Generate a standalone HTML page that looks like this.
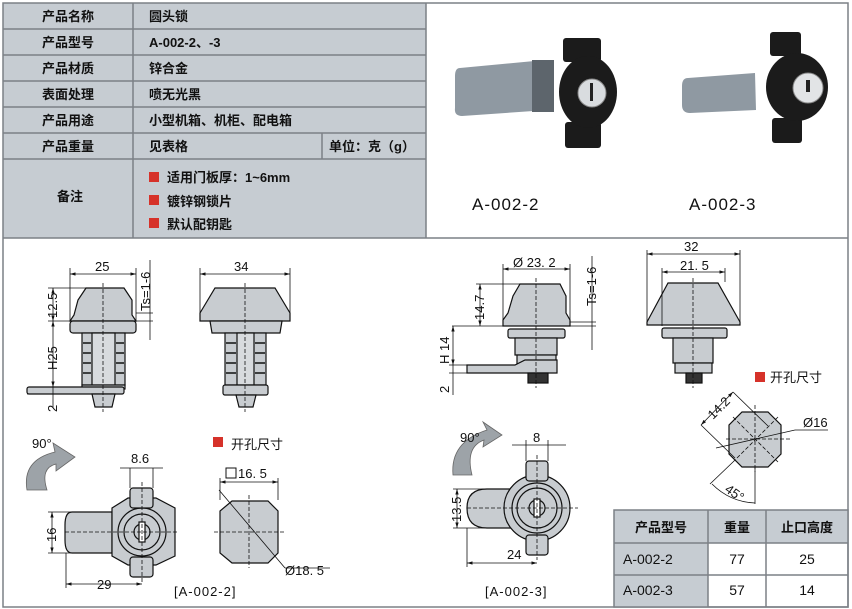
<!DOCTYPE html>
<html><head><meta charset="utf-8"><style>
html,body{margin:0;padding:0;background:#fff;}
svg{display:block;font-family:"Liberation Sans","Noto Sans CJK SC",sans-serif;}
</style></head><body>
<svg width="852" height="609" viewBox="0 0 852 609" xmlns="http://www.w3.org/2000/svg">
<defs>
<marker id="a" viewBox="0 0 10 10" refX="10" refY="5" markerWidth="7" markerHeight="7" orient="auto-start-reverse"><path d="M0 2 L10 5 L0 8 Z" fill="#111"/></marker>
</defs>
<rect x="0" y="0" width="852" height="609" fill="#fff"/>
<!-- top table -->
<rect x="3" y="3" width="423" height="235" fill="#c6ccd2"/>
<g stroke="#7c8086" stroke-width="1.5" fill="none">
<rect x="3" y="3" width="845" height="604"/>
<line x1="3" y1="29" x2="426" y2="29"/><line x1="3" y1="55" x2="426" y2="55"/>
<line x1="3" y1="81" x2="426" y2="81"/><line x1="3" y1="107" x2="426" y2="107"/>
<line x1="3" y1="133" x2="426" y2="133"/><line x1="3" y1="159" x2="426" y2="159"/>
<line x1="3" y1="238" x2="848" y2="238"/>
<line x1="133" y1="3" x2="133" y2="238"/><line x1="322" y1="133" x2="322" y2="159"/>
<line x1="426" y1="3" x2="426" y2="238"/>
</g>
<g font-size="13" font-weight="bold" fill="#111" text-anchor="middle">
<text x="68" y="21">产品名称</text><text x="68" y="47">产品型号</text><text x="68" y="73">产品材质</text>
<text x="68" y="99">表面处理</text><text x="68" y="125">产品用途</text><text x="68" y="151">产品重量</text>
<text x="70" y="201">备注</text>
</g>
<g font-size="13" font-weight="bold" fill="#111">
<text x="149" y="21">圆头锁</text><text x="149" y="47">A-002-2、-3</text><text x="149" y="73">锌合金</text>
<text x="149" y="99">喷无光黑</text><text x="149" y="125">小型机箱、机柜、配电箱</text><text x="149" y="151">见表格</text>
<text x="329" y="151">单位：克（g）</text>
<text x="167" y="182">适用门板厚：1~6mm</text><text x="167" y="206">镀锌钢锁片</text><text x="167" y="229">默认配钥匙</text>
</g>
<g fill="#d6322a"><rect x="149" y="172" width="10" height="10"/><rect x="149" y="195" width="10" height="10"/><rect x="149" y="218" width="10" height="10"/></g>
<!-- photos -->
<g>
<path d="M460 68 L545 60 L548 110 L462 116 Q454 116 455 108 L455 76 Q455 68 460 68 Z" fill="#8f99a2"/>
<rect x="532" y="60" width="22" height="52" fill="#5d656c"/>
<rect x="563" y="38" width="38" height="24" rx="3" fill="#1b1b1b"/>
<rect x="565" y="122" width="36" height="26" rx="3" fill="#1b1b1b"/>
<ellipse cx="588" cy="92" rx="29" ry="36" fill="#1b1b1b"/>
<circle cx="592" cy="93" r="14" fill="#d9dcdf" stroke="#888"/>
<rect x="590" y="83" width="3" height="18" fill="#222"/>
<path d="M688 78 L755 73 L756 110 L690 113 Q682 113 682 105 L682 86 Q682 78 688 78 Z" fill="#8f99a2"/>
<rect x="770" y="32" width="31" height="24" rx="3" fill="#1b1b1b"/>
<rect x="772" y="118" width="30" height="25" rx="3" fill="#1b1b1b"/>
<ellipse cx="797" cy="87" rx="31" ry="34" fill="#1b1b1b"/>
<circle cx="808" cy="88" r="15" fill="#e2e4e6" stroke="#888"/>
<rect x="806" y="80" width="4" height="12" fill="#222"/>
</g>
<g font-size="17" fill="#111" letter-spacing="1"><text x="472" y="210">A-002-2</text><text x="689" y="210">A-002-3</text></g>

<!-- drawings -->
<g stroke="#111" stroke-width="1.2" fill="#c8ccd0">
<path d="M86 288 L124 288 L132 300 L132 315 L136 321 L70 321 L74 315 L78 300 Z"/>
<rect x="70" y="321" width="66" height="12" rx="3"/>
<rect x="82" y="333" width="43" height="52"/>
<rect x="92" y="333" width="23" height="52" fill="#d8dbde"/>
<rect x="82" y="385" width="43" height="4"/>
<rect x="27" y="387" width="97" height="7" rx="2"/>
<path d="M92 394 L115 394 L112 407 L95 407 Z"/>
<path d="M215 288 L275 288 L290 313 L290 321 L200 321 L200 313 Z"/>
<path d="M210 321 L282 321 L280 333 L212 333 Z"/>
<rect x="225" y="333" width="41" height="52"/>
<rect x="237" y="333" width="17" height="52" fill="#d8dbde"/>
<rect x="223" y="385" width="45" height="10" rx="2"/>
<path d="M236 395 L256 395 L253 407 L239 407 Z"/>
<path d="M72 512 L112 512 L112 553 L72 553 Q65 553 65 540 L65 525 Q65 512 72 512 Z"/>
<path d="M112 508 L128 498 L156 498 L175 508 L175 556 L156 565 L128 565 L112 556 Z"/>
<circle cx="142" cy="532" r="24" fill="none"/>
<circle cx="142" cy="532" r="18" fill="none"/>
<rect x="130" y="488" width="23" height="20" rx="3"/>
<rect x="130" y="557" width="23" height="20" rx="3"/>
<circle cx="142" cy="532" r="8" fill="none"/>
<rect x="139" y="522" width="6" height="20" fill="#fff"/>
<path d="M232 501 L268 501 L278 511 L278 553 L268 563 L232 563 L220 553 L220 511 Z"/>
<path d="M520 284 L560 284 L566 296 L566 313 L570 320 L570 326 L503 326 L503 320 L508 313 L513 296 Z"/>
<rect x="508" y="329" width="57" height="9" rx="2"/>
<rect x="515" y="338" width="42" height="17"/>
<rect x="517" y="355" width="39" height="10"/>
<path d="M467 365 L515 365 L525 360 L557 360 L557 373 L467 373 Z"/>
<rect x="528" y="373" width="20" height="10" fill="#333"/>
<path d="M668 283 L718 283 L740 322 L740 325 L647 325 L647 322 Z"/>
<rect x="662" y="328" width="65" height="10" rx="2"/>
<rect x="673" y="338" width="40" height="25"/>
<rect x="675" y="363" width="37" height="10"/>
<rect x="686" y="373" width="16" height="10" fill="#333"/>
<path d="M487 489 L512 489 L512 528 L487 528 Q467 528 467 508 Q467 489 487 489 Z"/>
<circle cx="537" cy="508" r="33"/>
<circle cx="537" cy="508" r="25" fill="none"/>
<circle cx="537" cy="508" r="20" fill="none"/>
<rect x="526" y="461" width="22" height="20" rx="3"/>
<rect x="526" y="535" width="22" height="20" rx="3"/>
<circle cx="537" cy="508" r="8" fill="none"/>
<rect x="534" y="499" width="6" height="18" fill="#fff"/>
<path d="M742 412 L768 412 L781 425 L781 454 L768 467 L742 467 L729 454 L729 425 Z"/>
</g>
<!-- threads -->
<g stroke="#111" stroke-width="1.5">
<line x1="83" y1="343" x2="91" y2="343"/><line x1="83" y1="353" x2="91" y2="353"/><line x1="83" y1="363" x2="91" y2="363"/><line x1="83" y1="373" x2="91" y2="373"/>
<line x1="116" y1="343" x2="124" y2="343"/><line x1="116" y1="353" x2="124" y2="353"/><line x1="116" y1="363" x2="124" y2="363"/><line x1="116" y1="373" x2="124" y2="373"/>
<line x1="226" y1="343" x2="236" y2="343"/><line x1="226" y1="353" x2="236" y2="353"/><line x1="226" y1="363" x2="236" y2="363"/><line x1="226" y1="373" x2="236" y2="373"/>
<line x1="255" y1="343" x2="265" y2="343"/><line x1="255" y1="353" x2="265" y2="353"/><line x1="255" y1="363" x2="265" y2="363"/><line x1="255" y1="373" x2="265" y2="373"/>
</g>
<!-- curved arrows -->
<g fill="#9da3a8" stroke="#666" stroke-width="0.8">
<path d="M27 490 Q22 460 55 452 L53 443 L75 457 L56 471 L56 464 Q40 468 47 490 Z"/>
<path d="M453 475 Q450 442 487 430 L483 422 L502 435 L483 447 L484 440 Q465 447 472 475 Z"/>
</g>
<g stroke="#111" stroke-width="0.8" stroke-dasharray="4,2" fill="none">
<line x1="103" y1="283" x2="103" y2="412"/><line x1="245" y1="283" x2="245" y2="412"/>
<line x1="142" y1="482" x2="142" y2="582"/><line x1="65" y1="532" x2="178" y2="532"/>
<line x1="249" y1="495" x2="249" y2="568"/><line x1="214" y1="532" x2="284" y2="532"/>
<line x1="536" y1="278" x2="536" y2="388"/><line x1="693" y1="278" x2="693" y2="388"/>
<line x1="537" y1="455" x2="537" y2="560"/><line x1="467" y1="508" x2="578" y2="508"/>
<line x1="726" y1="439" x2="792" y2="439"/><line x1="755" y1="405" x2="755" y2="472"/>
<line x1="733" y1="417" x2="778" y2="462"/><line x1="778" y1="417" x2="733" y2="462"/>
</g>
<!-- dimension lines with arrows -->
<g stroke="#111" stroke-width="0.8" fill="none" marker-start="url(#a)" marker-end="url(#a)">
<line x1="70" y1="274" x2="136" y2="274"/>
<line x1="53" y1="288" x2="53" y2="321"/><line x1="53" y1="321" x2="53" y2="387"/>
<line x1="200" y1="274" x2="290" y2="274"/>
<line x1="52" y1="512" x2="52" y2="553"/>
<line x1="66" y1="584" x2="142" y2="584"/>
<line x1="220" y1="482" x2="278" y2="482"/>
<line x1="503" y1="269" x2="570" y2="269"/>
<line x1="480" y1="284" x2="480" y2="326"/>
<line x1="453" y1="326" x2="453" y2="365"/>
<line x1="647" y1="254" x2="740" y2="254"/>
<line x1="662" y1="272" x2="725" y2="272"/>
<line x1="457" y1="489" x2="457" y2="528"/>
<line x1="467" y1="563" x2="537" y2="563"/>
<line x1="701" y1="425" x2="733" y2="392"/>
</g>
<g stroke="#111" stroke-width="0.8" fill="none">
<line x1="70" y1="268" x2="70" y2="321"/><line x1="136" y1="268" x2="136" y2="321"/>
<line x1="53" y1="387" x2="53" y2="408"/><line x1="48" y1="288" x2="86" y2="288"/><line x1="48" y1="321" x2="70" y2="321"/><line x1="53" y1="394" x2="27" y2="394"/>
<line x1="150" y1="260" x2="150" y2="340"/><line x1="136" y1="321" x2="153" y2="321"/><line x1="136" y1="313" x2="153" y2="313"/>
<line x1="200" y1="268" x2="200" y2="320"/><line x1="290" y1="268" x2="290" y2="320"/>
<line x1="130" y1="468" x2="130" y2="488"/><line x1="153" y1="468" x2="153" y2="488"/><line x1="120" y1="468" x2="163" y2="468"/>
<line x1="48" y1="512" x2="72" y2="512"/><line x1="48" y1="553" x2="72" y2="553"/>
<line x1="66" y1="553" x2="66" y2="588"/>
<line x1="220" y1="478" x2="220" y2="500"/><line x1="278" y1="478" x2="278" y2="500"/>
<line x1="219" y1="490" x2="285" y2="568"/><line x1="285" y1="568" x2="330" y2="568"/>
<line x1="503" y1="264" x2="503" y2="320"/><line x1="570" y1="264" x2="570" y2="320"/>
<line x1="476" y1="284" x2="520" y2="284"/><line x1="452" y1="326" x2="596" y2="326"/>
<line x1="592" y1="256" x2="592" y2="350"/><line x1="570" y1="322" x2="596" y2="322"/>
<line x1="453" y1="365" x2="453" y2="395"/><line x1="449" y1="365" x2="467" y2="365"/><line x1="449" y1="373" x2="467" y2="373"/>
<line x1="647" y1="250" x2="647" y2="322"/><line x1="740" y1="250" x2="740" y2="322"/>
<line x1="662" y1="268" x2="662" y2="326"/><line x1="725" y1="268" x2="725" y2="282"/>
<line x1="512" y1="445" x2="566" y2="445"/><line x1="526" y1="440" x2="526" y2="461"/><line x1="548" y1="440" x2="548" y2="461"/>
<line x1="453" y1="489" x2="487" y2="489"/><line x1="453" y1="528" x2="487" y2="528"/>
<line x1="467" y1="528" x2="467" y2="567"/>
<line x1="701" y1="425" x2="735" y2="458"/><line x1="733" y1="392" x2="768" y2="426"/>
<line x1="716" y1="448" x2="795" y2="430"/><line x1="795" y1="430" x2="828" y2="430"/>
<line x1="755" y1="467" x2="755" y2="504"/><line x1="710" y1="484" x2="733" y2="462"/>
<path d="M712 484 Q730 502 755 503"/>
</g>
<g font-size="13" fill="#111">
<text x="95" y="271">25</text><text x="234" y="271">34</text>
<text transform="translate(57,318) rotate(-90)">12.5</text>
<text transform="translate(57,370) rotate(-90)">H25</text>
<text transform="translate(57,412) rotate(-90)">2</text>
<text transform="translate(150,311) rotate(-90)">Ts=1-6</text>
<text x="32" y="448">90°</text><text x="131" y="463">8.6</text>
<text transform="translate(56,542) rotate(-90)">16</text>
<text x="97" y="589">29</text>
<text x="174" y="596" letter-spacing="1">[A-002-2]</text>
<text x="231" y="449">开孔尺寸</text>
<text x="238" y="478">16. 5</text>
<text x="285" y="575">Ø18. 5</text>
<text x="513" y="267">Ø 23. 2</text>
<text transform="translate(484,320) rotate(-90)">14.7</text>
<text transform="translate(596,306) rotate(-90)">Ts=1-6</text>
<text transform="translate(449,364) rotate(-90)">H 14</text>
<text transform="translate(449,393) rotate(-90)">2</text>
<text x="684" y="251">32</text><text x="680" y="270">21. 5</text>
<text x="770" y="382">开孔尺寸</text>
<text transform="translate(713,420) rotate(-45)">14.2</text>
<text x="803" y="427">Ø16</text>
<text transform="translate(724,491) rotate(35)">45°</text>
<text x="460" y="442">90°</text><text x="533" y="442">8</text>
<text transform="translate(461,522) rotate(-90)">13.5</text>
<text x="507" y="559">24</text>
<text x="485" y="596" letter-spacing="1">[A-002-3]</text>
</g>
<rect x="226" y="468" width="10" height="10" fill="none" stroke="#111"/>
<g fill="#d6322a"><rect x="213" y="437" width="10" height="10"/><rect x="755" y="372" width="10" height="10"/></g>
<rect x="614" y="510" width="234" height="33" fill="#c6ccd2"/>
<rect x="614" y="543" width="94" height="64" fill="#c6ccd2"/>
<g stroke="#7c8086" stroke-width="1.5" fill="none">
<rect x="614" y="510" width="234" height="97"/>
<line x1="614" y1="543" x2="848" y2="543"/><line x1="614" y1="575" x2="848" y2="575"/>
<line x1="708" y1="510" x2="708" y2="607"/><line x1="766" y1="510" x2="766" y2="607"/>
</g>
<g font-size="13" font-weight="bold" fill="#111" text-anchor="middle">
<text x="661" y="532">产品型号</text><text x="737" y="532">重量</text><text x="807" y="532">止口高度</text>
</g>
<g font-size="14" fill="#111">
<text x="623" y="564">A-002-2</text><text x="623" y="595">A-002-3</text>
<text x="737" y="564" text-anchor="middle">77</text><text x="737" y="595" text-anchor="middle">57</text>
<text x="807" y="564" text-anchor="middle">25</text><text x="807" y="595" text-anchor="middle">14</text>
</g>
</svg>
</body></html>
